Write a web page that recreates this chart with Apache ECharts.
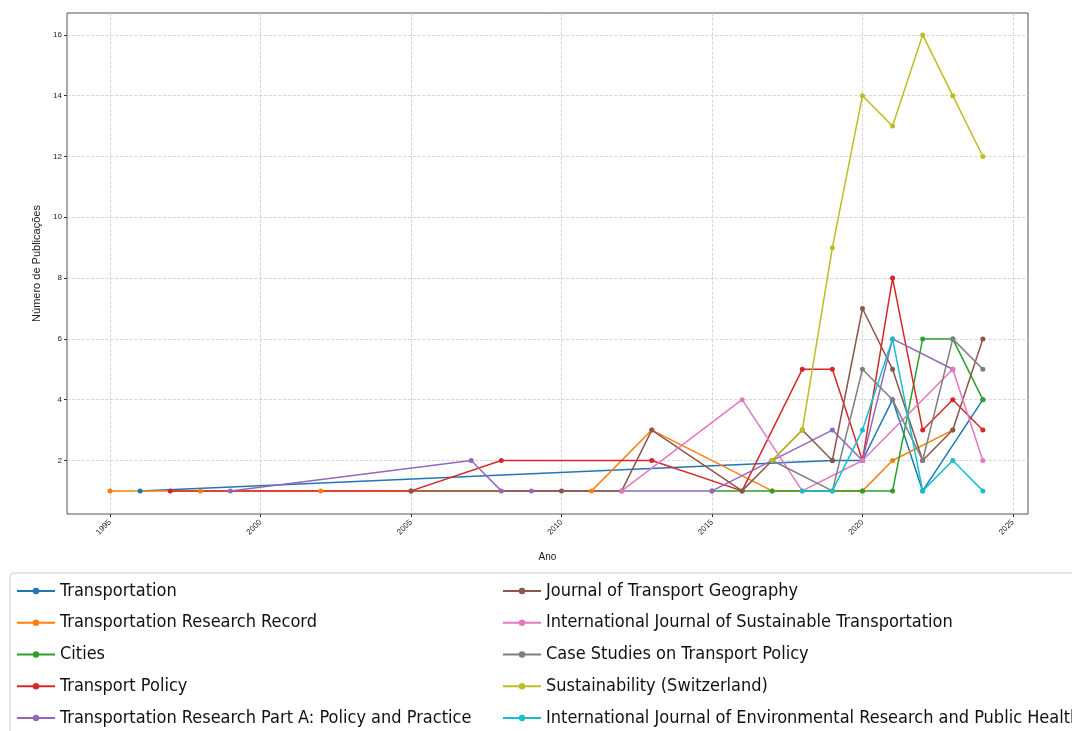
<!DOCTYPE html>
<html>
<head>
<meta charset="utf-8">
<script src="https://cdn.jsdelivr.net/npm/echarts@6/dist/echarts.min.js"></script>
<style>
  html, body { margin: 0; padding: 0; background: #fff; }
  #chart { width: 1072px; height: 731px; }
</style>
</head>
<body>
<div id="chart"></div>
<script>
const xTicks = [1995, 2000, 2005, 2010, 2015, 2020, 2025];
const yTicks = [2, 4, 6, 8, 10, 12, 14, 16];

const seriesNames = [
  'Transportation',
  'Transportation Research Record',
  'Cities',
  'Transport Policy',
  'Transportation Research Part A: Policy and Practice',
  'Journal of Transport Geography',
  'International Journal of Sustainable Transportation',
  'Case Studies on Transport Policy',
  'Sustainability (Switzerland)',
  'International Journal of Environmental Research and Public Health'
];

const transportationYears = [1996, 2019, 2020, 2021, 2022, 2024];
const transportationCounts = [1, 2, 2, 4, 1, 4];

const trrYears = [1995, 1998, 2002, 2011, 2013, 2017, 2020, 2021, 2023];
const trrCounts = [1, 1, 1, 1, 3, 1, 1, 2, 3];

const citiesYears = [2015, 2017, 2020, 2021, 2022, 2023, 2024];
const citiesCounts = [1, 1, 1, 1, 6, 6, 4];

const transportPolicyYears = [1997, 2005, 2008, 2013, 2016, 2018, 2019, 2020, 2021, 2022, 2023, 2024];
const transportPolicyCounts = [1, 1, 2, 2, 1, 5, 5, 2, 8, 3, 4, 3];

const trPartAYears = [1999, 2007, 2008, 2009, 2015, 2019, 2020, 2021, 2023];
const trPartACounts = [1, 2, 1, 1, 1, 3, 2, 6, 5];

const geographyYears = [2005, 2010, 2012, 2013, 2016, 2017, 2018, 2019, 2020, 2021, 2022, 2023, 2024];
const geographyCounts = [1, 1, 1, 3, 1, 2, 3, 2, 7, 5, 2, 3, 6];

const sustTranspYears = [2012, 2016, 2018, 2020, 2023, 2024];
const sustTranspCounts = [1, 4, 1, 2, 5, 2];

const caseStudiesYears = [2017, 2019, 2020, 2021, 2022, 2023, 2024];
const caseStudiesCounts = [2, 1, 5, 4, 2, 6, 5];

const sustainabilityYears = [2017, 2018, 2019, 2020, 2021, 2022, 2023, 2024];
const sustainabilityCounts = [2, 3, 9, 14, 13, 16, 14, 12];

const ijerphYears = [2018, 2019, 2020, 2021, 2022, 2023, 2024];
const ijerphCounts = [1, 1, 3, 6, 1, 2, 1];

const allYears = [transportationYears, trrYears, citiesYears, transportPolicyYears, trPartAYears,
  geographyYears, sustTranspYears, caseStudiesYears, sustainabilityYears, ijerphYears];
const allCounts = [transportationCounts, trrCounts, citiesCounts, transportPolicyCounts, trPartACounts,
  geographyCounts, sustTranspCounts, caseStudiesCounts, sustainabilityCounts, ijerphCounts];

const colors = ['#1f77b4', '#ff7f0e', '#2ca02c', '#d62728', '#9467bd',
  '#8c564b', '#e377c2', '#7f7f7f', '#bcbd22', '#17becf'];

const chart = echarts.init(document.getElementById('chart'), null, { renderer: 'canvas' });

const series = seriesNames.map(function (name, i) {
  return {
    name: name,
    type: 'line',
    data: allYears[i].map(function (y, j) { return [y, allCounts[i][j]]; }),
    symbol: 'circle',
    symbolSize: 5,
    lineStyle: { width: 1.5 },
    emphasis: { disabled: true },
    animation: false
  };
});

const legendText = {
  fontFamily: "'DejaVu Sans Condensed', 'DejaVu Sans', sans-serif",
  fontSize: 18,
  lineHeight: 20,
  color: '#111'
};

const option = {
  color: colors,
  animation: false,
  grid: {
    left: 67,
    right: 44,
    top: 13,
    bottom: 217,
    show: true,
    borderColor: '#555',
    borderWidth: 1
  },
  legend: [{
    data: seriesNames.slice(0, 5),
    orient: 'vertical',
    left: 10,
    top: 573,
    height: 180,
    itemWidth: 38,
    itemHeight: 8,
    itemGap: 11.75,
    padding: [8, 700, 8, 6],
    borderColor: '#ccc',
    borderWidth: 1,
    borderRadius: 4,
    backgroundColor: '#fff',
    textStyle: legendText
  }, {
    data: seriesNames.slice(5),
    orient: 'vertical',
    left: 496,
    top: 573,
    height: 180,
    itemWidth: 38,
    itemHeight: 8,
    itemGap: 11.75,
    padding: [8, 0, 8, 6],
    textStyle: legendText
  }],
  xAxis: {
    type: 'value',
    name: 'Ano',
    nameLocation: 'middle',
    nameGap: 38,
    nameTextStyle: { fontSize: 10, color: '#222' },
    min: 1993.57,
    max: 2025.5,
    axisLine: { show: false },
    axisTick: { show: true, customValues: xTicks, length: 3, lineStyle: { color: '#333' } },
    axisLabel: {
      customValues: xTicks,
      formatter: function (v) { return String(v); },
      rotate: 45,
      fontSize: 8,
      color: '#222',
      margin: 7
    },
    splitLine: { show: true, lineStyle: { type: 'dashed', color: '#ccc', width: 0.8 } }
  },
  yAxis: {
    type: 'value',
    name: 'Número de Publicações',
    nameLocation: 'middle',
    nameGap: 19,
    nameTextStyle: { fontSize: 11, color: '#222' },
    min: 0.24,
    max: 16.72,
    axisLine: { show: false },
    axisTick: { show: true, customValues: yTicks, length: 3, lineStyle: { color: '#333' } },
    axisLabel: { customValues: yTicks, fontSize: 8, color: '#222', margin: 5 },
    splitLine: { show: true, lineStyle: { type: 'dashed', color: '#ccc', width: 0.8 } }
  },
  series: series
};

chart.setOption(option);
</script>
</body>
</html>
